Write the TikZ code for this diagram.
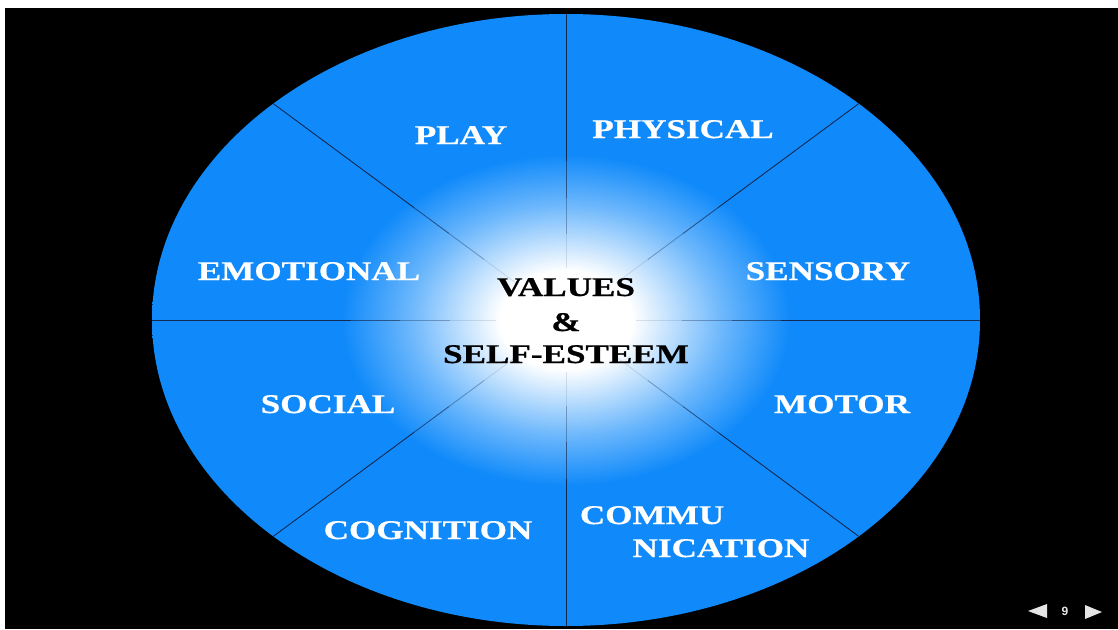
\documentclass[tikz,border=0pt]{standalone}
\usepackage{graphicx}
\usepackage{fontspec}
\setmainfont{Liberation Serif}[BoldFeatures={FakeBold=0.6}]
\newfontfamily\navfont{Liberation Sans}
\usetikzlibrary{calc}
\definecolor{myblue}{RGB}{16,138,250}
\definecolor{spoke}{RGB}{20,40,80}
\pgfdeclareradialshading{glow}{\pgfpointorigin}{color(0bp)=(white); color(4bp)=(white); color(6.5bp)=(myblue!28!white); color(9.5bp)=(myblue!62!white); color(13.5bp)=(myblue); color(50bp)=(myblue)}
\newcommand{\wide}[1]{\scalebox{1.3}[1]{#1}}
\begin{document}
\begin{tikzpicture}[x=1pt,y=-1pt,
  lab/.style={text=white,font=\bfseries\fontsize{27}{30}\selectfont,anchor=base,inner sep=0pt},
  core/.style={text=black,font=\bfseries\fontsize{27}{30}\selectfont,anchor=base,inner sep=0pt},
  spokeline/.style={draw=spoke,line width=0.9pt}]
\useasboundingbox (0,0) rectangle (1118,629);
\fill[white] (0,0) rectangle (1118,629);
\fill[black] (5,8) rectangle (1118,629);
\coordinate (c) at (566,320);
\shade[shading=glow] (c) ellipse [x radius=414pt, y radius=306pt];
\foreach \a [count=\i] in {0,45,...,315} {
  \coordinate (r\i) at ($(c)+(\a:414 and 306)$);
  \draw[spokeline,opacity=0.12] ($(c)!0.17!(r\i)$) -- ($(c)!0.28!(r\i)$);
  \draw[spokeline,opacity=0.35] ($(c)!0.28!(r\i)$) -- ($(c)!0.40!(r\i)$);
  \draw[spokeline,opacity=0.65] ($(c)!0.40!(r\i)$) -- ($(c)!0.52!(r\i)$);
  \draw[spokeline] ($(c)!0.52!(r\i)$) -- (r\i);
}
\node[lab] (play) at (461,144) {\wide{PLAY}};
\node[lab] (physical) at (683,138) {\wide{PHYSICAL}};
\node[lab] (emotional) at (309,280) {\wide{EMOTIONAL}};
\node[lab] (sensory) at (828,280) {\wide{SENSORY}};
\node[lab] (social) at (328,413) {\wide{SOCIAL}};
\node[lab] (motor) at (842,413) {\wide{MOTOR}};
\node[lab] (cognition) at (428,539) {\wide{COGNITION}};
\node[lab] (commu) at (652,524) {\wide{COMMU}};
\node[lab] (nication) at (721,557) {\wide{NICATION}};
\node[core] (values) at (566,296) {\wide{VALUES}};
\node[core] (amp) at (566,331) {\wide{\&}};
\node[core] (esteem) at (566,363) {\wide{SELF-ESTEEM}};
\node[text=white!90!black,font=\navfont\bfseries\fontsize{12}{12}\selectfont,inner sep=0pt] (page) at (1065,611.5) {9};
\fill[white!90!black] (1028,611) -- (1047,604) -- (1047,618) -- cycle;
\fill[white!90!black] (1102,612) -- (1085,605) -- (1085,619) -- cycle;
\end{tikzpicture}
\end{document}
